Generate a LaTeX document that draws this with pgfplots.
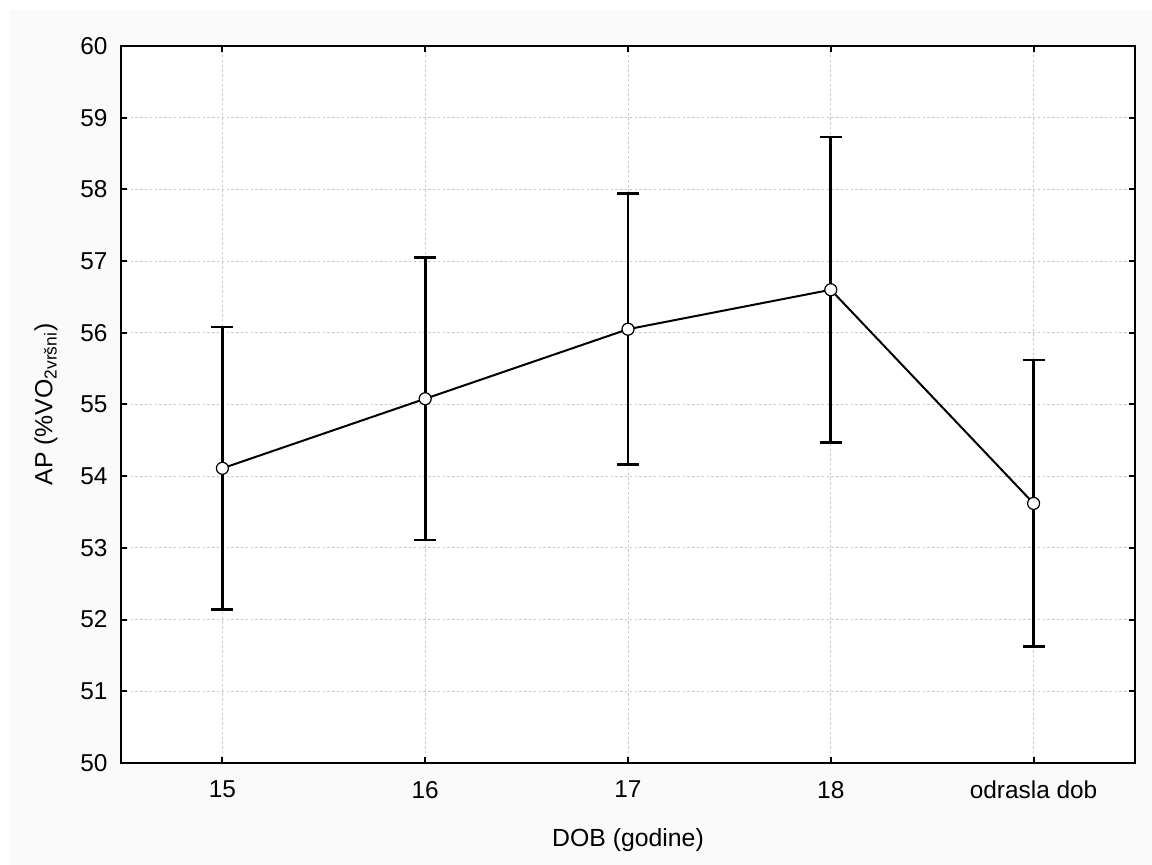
\documentclass[border=0pt]{standalone}
\usepackage{fontspec}
\setmainfont{Liberation Sans}
\usepackage{pgfplots}
\pgfplotsset{compat=1.18}
\definecolor{panel}{HTML}{FAFAFA}
\definecolor{gridc}{HTML}{C8C8C8}
\begin{document}
\begin{tikzpicture}[x=0.5pt,y=0.5pt]
\fill[white] (0,0) rectangle (1152,865);
\fill[panel] (10,0) rectangle (1152,855);
\begin{axis}[
  at={(60.5pt,51pt)}, anchor=south west,
  scale only axis, width=507pt, height=358.5pt,
  xmin=-0.5, xmax=4.5, ymin=50, ymax=60,
  xtick={0,1,2,3,4},
  xticklabels={15,16,17,18,odrasla dob},
  ytick={50,51,...,60},
  tick align=inside,
  major tick length=3pt,
  tick style={line width=1pt, black},
  axis line style={line width=1.25pt},
  grid=major,
  major grid style={gridc, line width=0.5pt, dash pattern=on 1.2pt off 1.2pt},
  axis background/.style={fill=white},
  /pgf/number format/assume math mode=true,
  tick label style={font=\fontsize{12.2}{14}\selectfont},
  xticklabel style={yshift=-5.5pt},
  yticklabel style={xshift=-3.2pt},
  label style={font=\fontsize{12.4}{14}\selectfont},
  xlabel={DOB (godine)},
  ylabel={AP (\%VO\textsubscript{2vršni})},
  xlabel style={at={(axis description cs:0.5,-0.107)}, anchor=center},
  ylabel style={at={(axis description cs:-0.074,0.5)}, anchor=center},
  clip=false,
]
\addplot[black, line width=1pt,
  mark=*, mark size=3pt, mark options={fill=white, draw=black, line width=0.6pt},
  error bars/.cd, y dir=both, y explicit,
  error bar style={line width=1.35pt, black},
  error mark options={rotate=90, mark size=5.5pt, line width=1.35pt, black}]
table[x=x, y=y, y error=e] {
x y e
0 54.11 1.97
1 55.08 1.97
2 56.05 1.89
3 56.60 2.13
4 53.62 2.00
};
\end{axis}
\end{tikzpicture}
\end{document}
